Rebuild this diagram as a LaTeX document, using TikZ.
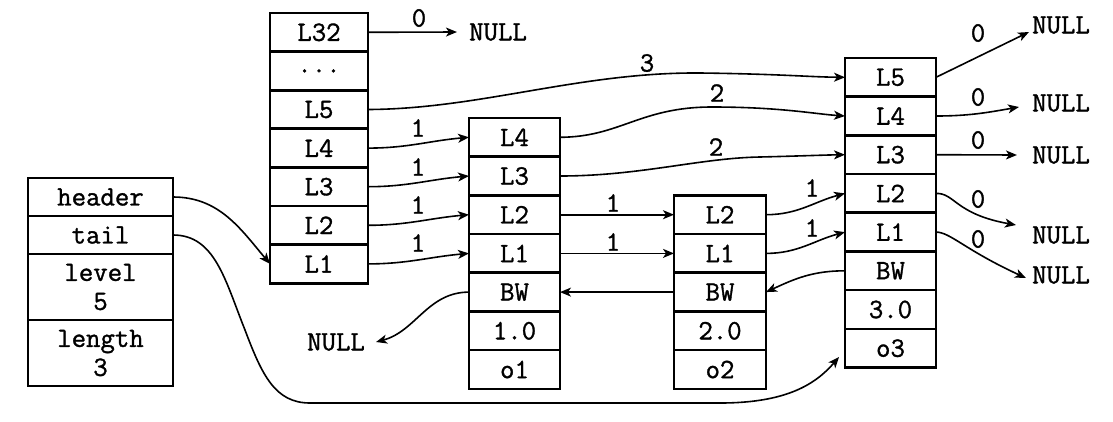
\documentclass[tikz,border=0pt]{standalone}
\usepackage{fontspec}
\newfontfamily\cour{Latin Modern Mono}[FakeBold=1.2]
\usetikzlibrary{arrows.meta,calc}
\begin{document}
\begin{tikzpicture}[x=1pt,y=-1pt,
  txt/.style={font=\cour\fontsize{28}{29}\selectfont, inner sep=0pt},
  cell/.style={txt, draw, line width=2.6pt, outer sep=0pt, minimum width=#1, minimum height=38.7pt, align=center},
  conn/.style={line width=1.6pt, -{Stealth[length=11pt,width=9pt,inset=3pt]}},
  lab/.style={txt}]
\useasboundingbox (0,0) rectangle (1113,421);
% list struct
\node[cell=145, minimum height=38pt] (hd) at (100.5,197) {header};
\node[cell=145, minimum height=38pt] (tl) at (100.5,235) {tail};
\node[cell=145, minimum height=66pt] (lv) at (100.5,287) {level\\5};
\node[cell=145, minimum height=66pt] (ln) at (100.5,353) {length\\3};
% header node
\node[cell=98] (h32) at (319,32.3) {L32};
\node[cell=98] (hdt) at (319,70.9) {...};
\node[cell=98] (h5) at (319,109.5) {L5};
\node[cell=98] (h4) at (319,148.1) {L4};
\node[cell=98] (h3) at (319,186.7) {L3};
\node[cell=98] (h2) at (319,225.3) {L2};
\node[cell=98] (h1) at (319,263.9) {L1};
% node o1
\node[cell=91] (a4) at (514.5,137.3) {L4};
\node[cell=91] (a3) at (514.5,176) {L3};
\node[cell=91] (a2) at (514.5,214.7) {L2};
\node[cell=91] (a1) at (514.5,253.4) {L1};
\node[cell=91] (abw) at (514.5,292.1) {BW};
\node[cell=91] (asc) at (514.5,330.8) {1.0};
\node[cell=91] (aob) at (514.5,369.5) {o1};
% node o2
\node[cell=92] (b2) at (720,214.7) {L2};
\node[cell=92] (b1) at (720,253.4) {L1};
\node[cell=92] (bbw) at (720,292.1) {BW};
\node[cell=92] (bsc) at (720,330.8) {2.0};
\node[cell=92] (bob) at (720,369.5) {o2};
% node o3
\node[cell=91] (c5) at (890.5,77.3) {L5};
\node[cell=91] (c4) at (890.5,116) {L4};
\node[cell=91] (c3) at (890.5,154.7) {L3};
\node[cell=91] (c2) at (890.5,193.4) {L2};
\node[cell=91] (c1) at (890.5,232.1) {L1};
\node[cell=91] (cbw) at (890.5,270.8) {BW};
\node[cell=91] (csc) at (890.5,309.5) {3.0};
\node[cell=91] (cob) at (890.5,348.2) {o3};
% NULL texts
\node[txt] (n32) at (498,32) {NULL};
\node[txt] (n5) at (1061,25) {NULL};
\node[txt] (n4) at (1061,103) {NULL};
\node[txt] (n3) at (1061,155) {NULL};
\node[txt] (n2) at (1061,235) {NULL};
\node[txt] (n1) at (1061,275) {NULL};
\node[txt] (nl) at (336,342) {NULL};
% labels
\node[lab] (l32) at (419,18) {0};
\node[lab] (lh4) at (418,128) {1};
\node[lab] (lh3) at (418,167) {1};
\node[lab] (lh2) at (418,205) {1};
\node[lab] (lh1) at (418,243) {1};
\node[lab] (lh5) at (647,63) {3};
\node[lab] (la4) at (717,93) {2};
\node[lab] (la3) at (716,147) {2};
\node[lab] (la2) at (613,203) {1};
\node[lab] (la1) at (613,242) {1};
\node[lab] (lb2) at (812,188) {1};
\node[lab] (lb1) at (812,228) {1};
\node[lab] (lc5) at (978,33) {0};
\node[lab] (lc4) at (978,97) {0};
\node[lab] (lc3) at (978,140) {0};
\node[lab] (lc2) at (978,199) {0};
\node[lab] (lc1) at (978,239) {0};
\coordinate (tailend) at (839,357);
% connectors
\draw[conn] (h32.east) -- ($(n32.west)+(-12,0)$);
\draw[conn] (h5.east) .. controls (480,109) and (580,72) .. (700,73) .. controls (780,74) and (810,77) .. (c5.west);
\draw[conn] (h4.east) to[out=0,in=185] (a4.west);
\draw[conn] (h3.east) to[out=0,in=185] (a3.west);
\draw[conn] (h2.east) to[out=0,in=185] (a2.west);
\draw[conn] (h1.east) to[out=0,in=185] (a1.west);
\draw[conn] (a4.east) .. controls (620,137) and (640,107) .. (712,107) .. controls (780,107) and (815,114) .. (c4.west);
\draw[conn] (a3.east) .. controls (640,176) and (700,158) .. (760,157) .. controls (800,156) and (825,155) .. (c3.west);
\draw[conn] (a2.east) -- (b2.west);
\draw[conn] (a1.east) -- (b1.west);
\draw[conn] (b2.east) to[out=0,in=195] (c2.west);
\draw[conn] (b1.east) to[out=0,in=195] (c1.west);
\draw[conn] (bbw.west) -- (abw.east);
\draw[conn] (cbw.west) to[out=180,in=25] (bbw.east);
\draw[conn] (abw.west) to[out=180,in=15] ($(nl.east)+(11,0)$);
\draw[conn] (c5.east) -- ($(n5.west)+(-3,7)$);
\draw[conn] (c4.east) to[out=0,in=190] ($(n4.west)+(-13,4)$);
\draw[conn] (c3.east) -- ($(n3.west)+(-15,0)$);
\draw[conn] (c2.east) .. controls (955,193) and (955,214) .. ($(n2.west)+(-16,-10)$);
\draw[conn] (c1.east) .. controls (950,232) and (965,250) .. ($(n1.west)+(-6,3)$);
\draw[conn] (hd.east) to[out=0,in=130] (h1.west);
\draw[conn] (tl.east) .. controls (215,235) and (225,280) .. (245,330) .. controls (262,375) and (275,403) .. (310,403) -- (720,403) .. controls (785,403) and (815,385) .. (tailend);
\end{tikzpicture}
\end{document}
